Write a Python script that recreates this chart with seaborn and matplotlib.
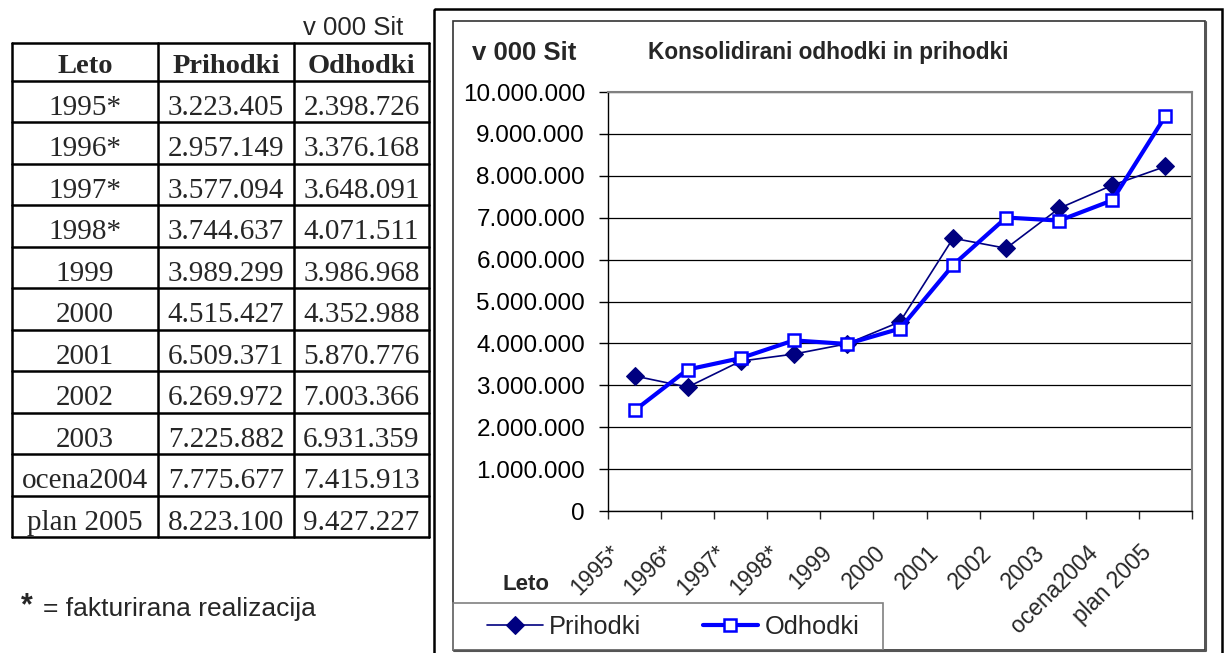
import numpy as np
import pandas as pd
import seaborn as sns
import matplotlib.pyplot as plt
import matplotlib.transforms as mtransforms
from matplotlib.ticker import FuncFormatter, MultipleLocator
from matplotlib.patches import Rectangle

leto = ["1995*", "1996*", "1997*", "1998*", "1999", "2000", "2001",
        "2002", "2003", "ocena2004", "plan 2005"]
prihodki = [3223405, 2957149, 3577094, 3744637, 3989299, 4515427,
            6509371, 6269972, 7225882, 7775677, 8223100]
odhodki = [2398726, 3376168, 3648091, 4071511, 3986968, 4352988,
           5870776, 7003366, 6931359, 7415913, 9427227]


def fmt(v):
    return f"{int(round(v)):,}".replace(",", ".")


W, H = 1224, 653
sns.set_style("white")
plt.rcParams['font.family'] = ['Liberation Sans', 'DejaVu Sans']

fig = plt.figure(figsize=(W / 100, H / 100), dpi=100)

# pixel overlay for the table, the frames and loose texts
bg = fig.add_axes([0, 0, 1, 1])
bg.set_xlim(0, W)
bg.set_ylim(H, 0)
bg.axis('off')

# table
col_x = [12, 158, 294, 429]
row_y = [43, 81] + [81 + 41.45 * (i + 1) for i in range(len(leto))]
for x in col_x:
    bg.plot([x, x], [row_y[0], row_y[-1]], color='black', lw=1.8)
for y in row_y:
    bg.plot([col_x[0], col_x[-1]], [y, y], color='black', lw=1.8)

serif = ['Liberation Serif', 'DejaVu Serif']
for j, head in enumerate(["Leto", "Prihodki", "Odhodki"]):
    bg.text((col_x[j] + col_x[j + 1]) / 2, row_y[0] + 30, head, ha='center',
            va='baseline', fontsize=20.5, fontweight='bold', family=serif)
for i in range(len(leto)):
    yb = row_y[i + 1] + 34
    cells = [leto[i], fmt(prihodki[i]), fmt(odhodki[i])]
    for j, c in enumerate(cells):
        bg.text((col_x[j] + col_x[j + 1]) / 2, yb, c, ha='center',
                va='baseline', fontsize=21, family=serif)

bg.text(303, 35, "v 000 Sit", ha='left', va='baseline', fontsize=18.5)
bg.text(21, 614, "*", ha='left', va='baseline', fontsize=22, fontweight='bold')
bg.text(43, 616, "= fakturirana realizacija", ha='left', va='baseline', fontsize=19)

# chart frames
bg.add_patch(Rectangle((434, 9), 788, 655, fill=False, ec='black', lw=1.8))
bg.add_patch(Rectangle((453, 21), 752, 629, fill=False, ec='#333333', lw=1.2))
bg.plot([454, 1206, 1206], [651, 651, 22], color='#555555', lw=1.5)
bg.add_patch(Rectangle((453, 603), 430, 47, fill=False, ec='#808080', lw=1.2))

bg.text(472, 60, "v 000 Sit", ha='left', va='baseline', fontsize=18.5, fontweight='bold')
bg.text(648, 59, "Konsolidirani odhodki in prihodki", ha='left', va='baseline',
        fontsize=16.3, fontweight='bold')
bg.text(503, 590, "Leto", ha='left', va='baseline', fontsize=16, fontweight='bold')

# chart
ax = fig.add_axes([608 / W, 1 - 511 / H, (1192 - 608) / W, (511 - 92) / H])
df = pd.DataFrame({'Leto': leto, 'Prihodki': prihodki, 'Odhodki': odhodki})
sns.lineplot(data=df, x='Leto', y='Prihodki', ax=ax, sort=False, color='#000080',
             lw=1.2, marker='D', markersize=9.5, markeredgecolor='#000080',
             label='Prihodki')
sns.lineplot(data=df, x='Leto', y='Odhodki', ax=ax, sort=False, color='#0000FF',
             lw=3, marker='s', markersize=8, markerfacecolor='white',
             markeredgecolor='#0000FF', markeredgewidth=1.8, label='Odhodki')

ax.set_xlim(-0.5, len(leto) - 0.5)
ax.set_ylim(0, 10_000_000)
ax.set_xlabel('')
ax.set_ylabel('')
ax.yaxis.set_major_locator(MultipleLocator(1_000_000))
ax.yaxis.set_major_formatter(FuncFormatter(lambda v, p: fmt(v)))
ax.yaxis.grid(True, color='black', lw=0.9)
ax.set_axisbelow(True)
ax.tick_params(axis='y', direction='out', length=6.5, width=1, labelsize=17.5,
               pad=10, left=True, colors='black')

ax.set_xticks(range(len(leto)))
ax.set_xticklabels(leto)
ax.set_xticks(np.arange(-0.5, len(leto), 1), minor=True)
ax.tick_params(axis='x', which='major', length=0, labelsize=16.5, pad=0)
ax.tick_params(axis='x', which='minor', direction='out', length=6, width=1, bottom=True)
shift = mtransforms.ScaledTranslation(-0.26, -0.30, fig.dpi_scale_trans)
for lab in ax.get_xticklabels():
    lab.set_rotation(45)
    lab.set_ha('right')
    lab.set_va('top')
    lab.set_rotation_mode('anchor')
    lab.set_transform(lab.get_transform() + shift)

for s in ['left', 'bottom']:
    ax.spines[s].set_color('black')
    ax.spines[s].set_linewidth(1)
for s in ['top', 'right']:
    ax.spines[s].set_color('#808080')
    ax.spines[s].set_linewidth(1.5)

handles, labels = ax.get_legend_handles_labels()
ax.get_legend().remove()
fig.legend(handles, labels, loc='center left', bbox_to_anchor=(487 / W, 1 - 627 / H),
           frameon=False, ncol=2, fontsize=18.3, handlelength=2.2, handletextpad=0.25,
           columnspacing=2.4, borderaxespad=0, borderpad=0)

fig.savefig('out.png', dpi=100)
